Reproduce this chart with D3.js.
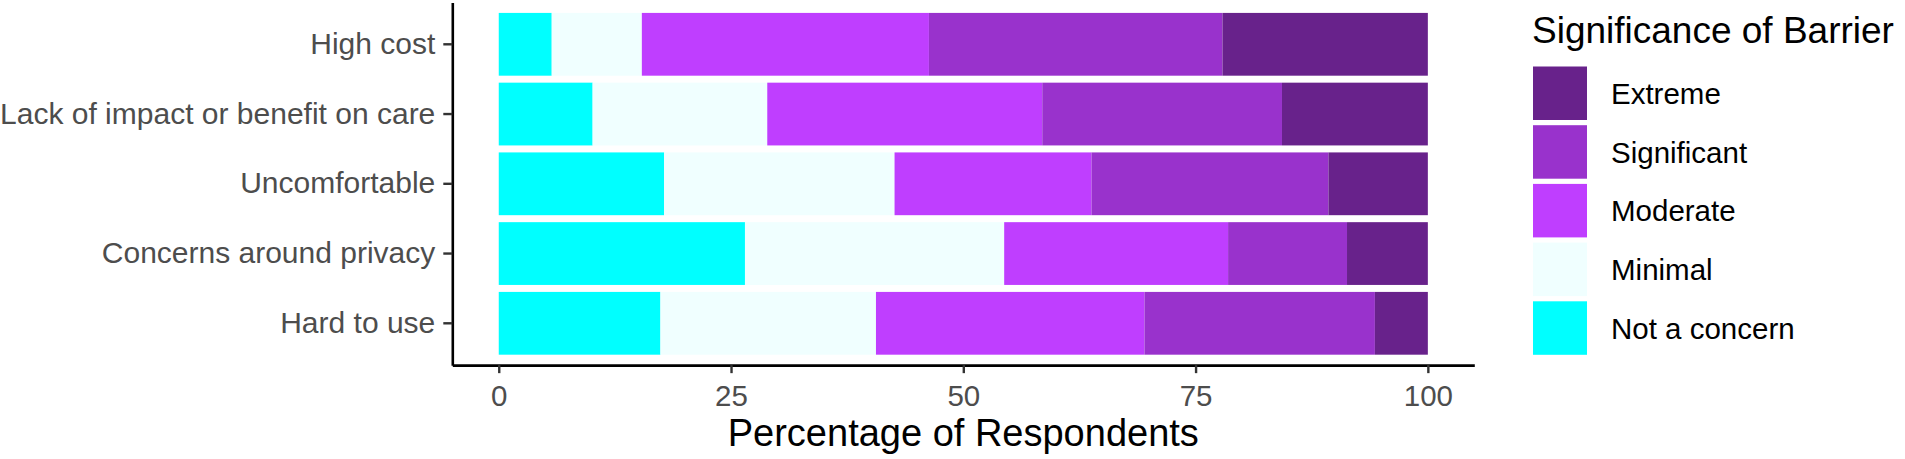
<!DOCTYPE html>
<html>
<head>
<meta charset="utf-8">
<script src="https://cdn.jsdelivr.net/npm/d3@7"></script>
<style>
  html, body { margin: 0; padding: 0; background: #ffffff; }
  svg { display: block; font-family: "Liberation Sans", Arial, sans-serif; }
</style>
</head>
<body>
<svg id="chart" width="1905" height="459"></svg>
<script>
// ---- data ----
const categories = ["High cost", "Lack of impact or benefit on care", "Uncomfortable", "Concerns around privacy", "Hard to use"];
const levels = ["Not a concern", "Minimal", "Moderate", "Significant", "Extreme"];
const notConcern  = [5.7, 10.1, 17.8, 26.5, 17.4];
const minimal     = [9.7, 18.8, 24.8, 27.9, 23.2];
const moderate    = [30.9, 29.6, 21.2, 24.1, 28.9];
const significant = [31.6, 25.8, 25.5, 12.8, 24.8];
const extreme     = [22.1, 15.7, 10.7, 8.7, 5.7];
const xTicks = [0, 25, 50, 75, 100];
const legendOrder = ["Extreme", "Significant", "Moderate", "Minimal", "Not a concern"];
const levelColors = ["#00FFFF", "#F0FFFF", "#BF3EFF", "#9932CC", "#68228B"];
const xTitle = "Percentage of Respondents";
const legendTitle = "Significance of Barrier";

// ---- build table ----
const seriesValues = [notConcern, minimal, moderate, significant, extreme];
const table = categories.map((c, i) => {
  const row = { category: c };
  levels.forEach((l, j) => { row[l] = seriesValues[j][i]; });
  return row;
});

const svg = d3.select("#chart");
const panel = { left: 452.3, right: 1474.3, top: 2.45, bottom: 365.15 };

const x = d3.scaleLinear().domain([-5, 105]).range([panel.left, panel.right]);
const y = d3.scaleBand().domain(categories).range([panel.top, panel.bottom])
  .paddingInner(0.1).paddingOuter(0.15);
const color = d3.scaleOrdinal().domain(levels).range(levelColors);

const stacked = d3.stack().keys(levels)(table);

// bars
svg.append("g").selectAll("g")
  .data(stacked)
  .join("g")
  .attr("fill", d => color(d.key))
  .selectAll("rect")
  .data(d => d)
  .join("rect")
  .attr("x", d => x(d[0]))
  .attr("width", d => x(d[1]) - x(d[0]))
  .attr("y", d => y(d.data.category))
  .attr("height", y.bandwidth());

// x axis
const xAxis = svg.append("g")
  .attr("transform", `translate(0,${panel.bottom})`)
  .call(d3.axisBottom(x).tickValues(xTicks).tickSize(8).tickSizeOuter(0).tickPadding(12));
xAxis.select(".domain").attr("stroke", "#000").attr("stroke-width", 2.6);
xAxis.selectAll(".tick line").attr("stroke", "#333").attr("stroke-width", 2.4);
xAxis.selectAll(".tick text").attr("fill", "#4D4D4D").attr("font-size", "29.5px")
  .attr("font-family", "'Liberation Sans', Arial, sans-serif");

// y axis
const yAxis = svg.append("g")
  .attr("transform", `translate(${panel.left},0)`)
  .call(d3.axisLeft(y).tickSize(9).tickSizeOuter(0).tickPadding(8));
yAxis.select(".domain").attr("stroke", "#000").attr("stroke-width", 2.6);
yAxis.selectAll(".tick line").attr("stroke", "#333").attr("stroke-width", 2.4);
yAxis.selectAll(".tick text").attr("fill", "#4D4D4D").attr("font-size", "30px")
  .attr("font-family", "'Liberation Sans', Arial, sans-serif");

// x title
svg.append("text")
  .attr("x", (panel.left + panel.right) / 2)
  .attr("y", 446)
  .attr("text-anchor", "middle")
  .attr("font-size", "38px")
  .attr("fill", "#000")
  .text(xTitle);

// legend
const lg = svg.append("g").attr("transform", "translate(1532,0)");
lg.append("text")
  .attr("x", 0).attr("y", 43.3)
  .attr("font-size", "37px").attr("fill", "#000")
  .text(legendTitle);
const keyStep = 58.7, keyTop = 66.5, keySize = 53.5;
const items = lg.selectAll("g.item").data(legendOrder).join("g").attr("class", "item")
  .attr("transform", (d, i) => `translate(1,${keyTop + i * keyStep})`);
items.append("rect")
  .attr("width", 54).attr("height", keySize)
  .attr("fill", d => color(d));
items.append("text")
  .attr("x", 78).attr("y", keySize / 2)
  .attr("dy", "0.36em")
  .attr("font-size", "29.5px").attr("fill", "#000")
  .text(d => d);
</script>
</body>
</html>
